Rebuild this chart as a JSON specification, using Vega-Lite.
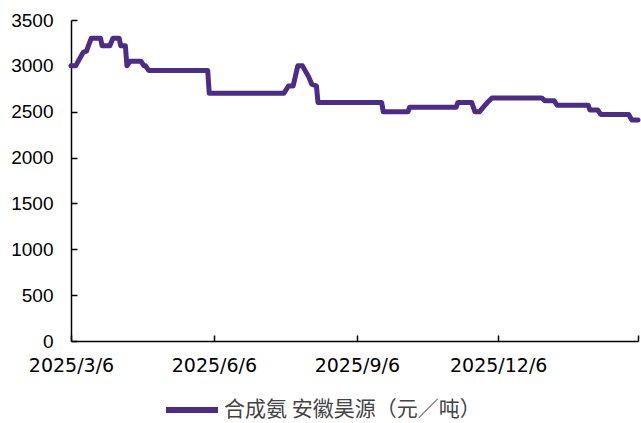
{
  "$schema": "https://vega.github.io/schema/vega-lite/v6.json",
  "width": 567,
  "height": 321,
  "autosize": {"type": "none"},
  "padding": {"left": 71, "top": 20, "right": 3, "bottom": 82},
  "background": "white",
  "data": {
    "values": [
      {"date": "2025-03-06", "price": 3000},
      {"date": "2025-03-09", "price": 3000},
      {"date": "2025-03-11", "price": 3060},
      {"date": "2025-03-14", "price": 3150},
      {"date": "2025-03-16", "price": 3160},
      {"date": "2025-03-17", "price": 3210},
      {"date": "2025-03-19", "price": 3300},
      {"date": "2025-03-25", "price": 3300},
      {"date": "2025-03-26", "price": 3220},
      {"date": "2025-03-31", "price": 3220},
      {"date": "2025-04-02", "price": 3300},
      {"date": "2025-04-06", "price": 3300},
      {"date": "2025-04-07", "price": 3220},
      {"date": "2025-04-10", "price": 3220},
      {"date": "2025-04-11", "price": 3000},
      {"date": "2025-04-13", "price": 3050},
      {"date": "2025-04-20", "price": 3050},
      {"date": "2025-04-22", "price": 3000},
      {"date": "2025-04-23", "price": 3000},
      {"date": "2025-04-25", "price": 2950},
      {"date": "2025-06-02", "price": 2950},
      {"date": "2025-06-03", "price": 2700},
      {"date": "2025-07-21", "price": 2700},
      {"date": "2025-07-24", "price": 2780},
      {"date": "2025-07-27", "price": 2780},
      {"date": "2025-07-30", "price": 3000},
      {"date": "2025-08-02", "price": 3000},
      {"date": "2025-08-06", "price": 2880},
      {"date": "2025-08-08", "price": 2800},
      {"date": "2025-08-11", "price": 2780},
      {"date": "2025-08-12", "price": 2600},
      {"date": "2025-09-22", "price": 2600},
      {"date": "2025-09-23", "price": 2500},
      {"date": "2025-10-09", "price": 2500},
      {"date": "2025-10-10", "price": 2550},
      {"date": "2025-11-09", "price": 2550},
      {"date": "2025-11-10", "price": 2600},
      {"date": "2025-11-19", "price": 2600},
      {"date": "2025-11-21", "price": 2500},
      {"date": "2025-11-24", "price": 2500},
      {"date": "2025-11-27", "price": 2560},
      {"date": "2025-11-29", "price": 2600},
      {"date": "2025-12-02", "price": 2650},
      {"date": "2026-01-03", "price": 2650},
      {"date": "2026-01-05", "price": 2620},
      {"date": "2026-01-11", "price": 2620},
      {"date": "2026-01-13", "price": 2570},
      {"date": "2026-02-02", "price": 2570},
      {"date": "2026-02-03", "price": 2520},
      {"date": "2026-02-08", "price": 2520},
      {"date": "2026-02-10", "price": 2470},
      {"date": "2026-02-28", "price": 2470},
      {"date": "2026-03-02", "price": 2410},
      {"date": "2026-03-06", "price": 2410}
    ],
    "format": {"parse": {"date": "date:'%Y-%m-%d'"}}
  },
  "transform": [{"calculate": "'合成氨 安徽昊源（元／吨）'", "as": "series"}],
  "mark": {"type": "line", "strokeWidth": 5, "strokeJoin": "round", "strokeCap": "round", "clip": false},
  "encoding": {
    "x": {
      "field": "date",
      "type": "temporal",
      "scale": {"domain": [{"year": 2025, "month": 3, "date": 6}, {"year": 2026, "month": 3, "date": 6}], "nice": false},
      "axis": {
        "title": null,
        "grid": false,
        "values": [
          {"year": 2025, "month": 3, "date": 6},
          {"year": 2025, "month": 6, "date": 6},
          {"year": 2025, "month": 9, "date": 6},
          {"year": 2025, "month": 12, "date": 6},
          {"year": 2026, "month": 3, "date": 6}
        ],
        "labelExpr": "year(datum.value) == 2026 ? '' : timeFormat(datum.value, '%Y/%-m/%-d')",
        "domainColor": "#000000",
        "domainWidth": 1.5,
        "tickColor": "#000000",
        "tickWidth": 1.5,
        "tickSize": -6,
        "labelPadding": 21,
        "labelFont": "DejaVu Sans",
        "labelFontSize": 19,
        "labelColor": "#000000",
        "labelFlush": false,
        "labelOverlap": false
      }
    },
    "y": {
      "field": "price",
      "type": "quantitative",
      "scale": {"domain": [0, 3500], "nice": false},
      "axis": {
        "title": null,
        "grid": false,
        "format": "d",
        "values": [0, 500, 1000, 1500, 2000, 2500, 3000, 3500],
        "domainColor": "#000000",
        "domainWidth": 1.5,
        "tickColor": "#000000",
        "tickWidth": 1.5,
        "tickSize": -6,
        "labelPadding": 24,
        "labelFont": "Liberation Sans",
        "labelFontSize": 19,
        "labelColor": "#000000"
      }
    },
    "color": {
      "field": "series",
      "type": "nominal",
      "scale": {"range": ["#4b2d87"]},
      "legend": {
        "title": null,
        "orient": "none",
        "legendX": 92,
        "legendY": 361,
        "symbolType": "stroke",
        "symbolStrokeWidth": 6,
        "symbolSize": 2700,
        "labelFont": "Noto Sans CJK SC",
        "labelFontSize": 21,
        "labelColor": "#444444",
        "labelLimit": 400,
        "labelOffset": 3
      }
    }
  },
  "config": {
    "view": {"stroke": null}
  }
}
